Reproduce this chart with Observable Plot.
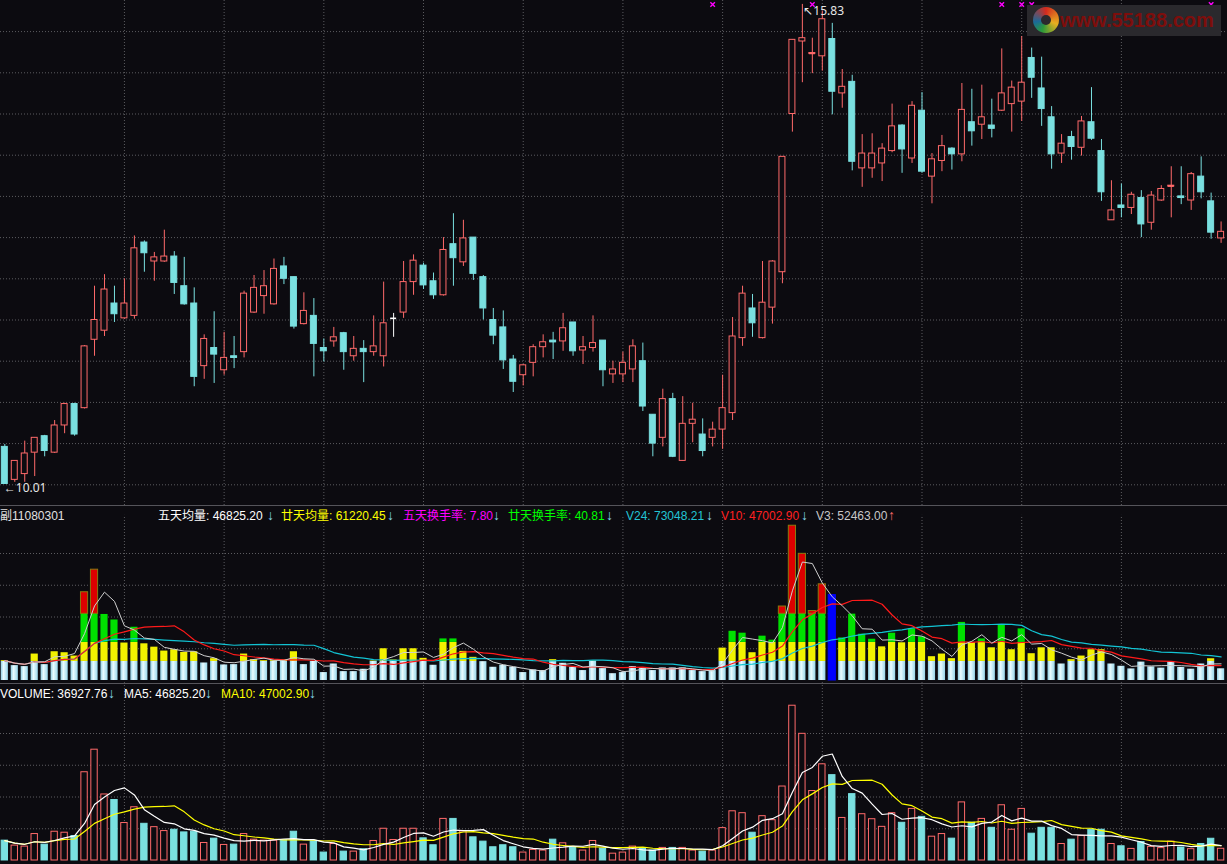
<!DOCTYPE html>
<html><head><meta charset="utf-8">
<script src="https://cdn.jsdelivr.net/npm/d3@7"></script>
<script src="https://cdn.jsdelivr.net/npm/@observablehq/plot@0.6"></script>
<style>
html,body{margin:0;padding:0;background:#0c0b10;}
#root{position:relative;width:1227px;height:864px;overflow:hidden;background:#0c0b10;font-family:"Liberation Sans","Noto Sans CJK SC",sans-serif;}
.panel{position:absolute;left:0;width:1227px;}
.sep{position:absolute;left:0;width:1227px;height:1px;background:#55545a;}
.lg{position:absolute;font-size:12px;line-height:14px;white-space:nowrap;}
.ar{font-size:14px;line-height:14px;margin-top:-1px;}
.logo{position:absolute;left:1027px;top:5px;width:194px;height:31px;background:#2a292d;}
.logo .sw{position:absolute;left:6px;top:2px;width:26px;height:26px;border-radius:50%;background:conic-gradient(#d42a1e 0deg,#e8b020 110deg,#2a9a3a 200deg,#1a6a9a 260deg,#d42a1e 360deg);}
.logo .sw i{position:absolute;left:8px;top:8px;width:10px;height:10px;border-radius:50%;background:#2a292d;}
.logo .tx{position:absolute;left:33px;top:4px;font:bold 20px "Liberation Sans",sans-serif;color:#7e0e0c;letter-spacing:0px;}
</style></head><body><div id="root"></div>
<script>
// ---- data ----
const opens  = [10.46,10.06,10.13,10.39,10.59,10.39,10.72,10.98,10.93,11.76,11.87,12.20,12.02,12.05,12.94,12.71,12.71,12.77,12.41,12.20,11.44,11.66,11.39,11.56,11.61,12.09,12.29,12.19,12.65,12.52,11.95,12.05,11.66,11.74,11.84,11.56,11.65,11.61,11.56,12.02,12.09,12.46,12.66,12.47,12.30,12.92,12.70,13.00,12.52,12.00,11.91,11.52,11.33,11.48,11.67,11.75,11.74,11.97,11.63,11.66,11.75,11.34,11.34,11.40,11.50,10.85,10.57,11.04,10.29,10.74,10.61,10.57,10.67,10.87,11.78,12.14,11.78,12.15,12.58,14.50,15.38,15.23,15.20,15.41,14.75,14.89,13.84,13.84,13.90,14.05,14.36,13.96,14.54,13.74,13.93,14.08,14.01,14.40,14.37,14.36,14.54,14.62,14.65,15.18,14.81,14.46,14.02,14.22,14.09,14.40,14.05,13.21,13.39,13.36,13.48,13.18,13.45,13.62,13.50,13.45,13.74,13.44,12.99];
const highs  = [10.49,10.29,10.53,10.57,10.60,10.78,10.99,10.99,11.69,12.41,12.55,12.41,12.50,13.02,12.96,12.82,13.09,12.83,12.76,12.39,11.82,12.10,11.85,11.80,12.35,12.54,12.60,12.74,12.76,12.52,12.33,12.26,11.77,11.91,11.85,11.80,11.75,12.05,12.46,12.08,12.71,12.79,12.69,12.57,13.00,13.29,13.21,13.00,12.54,12.14,12.11,11.57,11.46,11.70,11.82,11.85,12.08,11.97,11.80,12.05,11.75,11.50,11.61,11.76,11.72,10.85,11.16,11.11,11.07,10.99,10.80,10.76,11.33,12.03,12.41,12.31,12.71,12.72,13.98,15.40,15.83,15.42,15.75,15.60,15.04,14.97,14.25,14.26,14.14,14.62,14.37,14.65,14.76,14.02,14.24,14.09,14.87,14.80,14.85,14.68,15.29,14.90,15.44,15.30,15.19,14.59,14.25,14.29,14.47,14.82,14.19,13.69,13.65,13.55,13.57,13.56,13.63,13.86,13.86,13.79,13.98,13.54,13.19];
const lows   = [10.01,10.03,10.03,10.10,10.34,10.38,10.62,10.59,10.92,11.56,11.80,11.97,12.01,12.01,12.58,12.47,12.70,12.31,12.18,11.19,11.28,11.23,11.33,11.41,11.54,12.08,12.07,12.18,12.43,11.89,11.94,11.31,11.49,11.67,11.39,11.50,11.24,11.56,11.43,11.79,12.02,12.30,12.37,12.25,12.29,12.41,12.65,12.48,12.00,11.70,11.40,11.12,11.20,11.31,11.54,11.52,11.62,11.56,11.46,11.61,11.19,11.23,11.24,11.24,10.89,10.34,10.46,10.33,10.29,10.51,10.34,10.46,10.43,10.78,11.68,11.79,11.77,11.95,12.44,14.28,14.88,14.99,15.02,14.49,14.57,13.81,13.61,13.72,13.68,14.03,13.78,13.90,13.78,13.41,13.80,13.82,13.92,14.11,14.19,14.21,14.53,14.28,14.41,14.69,14.35,13.83,13.90,13.94,13.99,14.18,13.44,13.21,13.24,13.28,13.00,13.09,13.44,13.24,13.40,13.33,13.47,12.98,12.93];
const closes = [10.01,10.29,10.38,10.57,10.41,10.72,10.98,10.61,11.68,12.00,12.37,12.07,12.20,12.87,12.81,12.76,12.77,12.45,12.19,11.31,11.77,11.58,11.54,11.54,12.32,12.39,12.41,12.62,12.50,11.92,12.11,11.71,11.62,11.79,11.61,11.65,11.61,11.68,11.96,12.02,12.46,12.72,12.42,12.30,12.85,12.75,12.99,12.56,12.14,11.81,11.51,11.25,11.45,11.67,11.73,11.73,11.90,11.62,11.67,11.72,11.39,11.40,11.48,11.68,10.95,10.50,11.04,10.34,10.74,10.79,10.41,10.67,10.93,11.80,12.32,11.96,12.21,12.71,13.98,15.40,15.42,15.24,15.65,14.77,14.83,13.92,14.02,14.02,14.08,14.35,14.07,14.60,13.80,13.95,14.11,14.01,14.55,14.29,14.46,14.32,14.75,14.82,14.88,14.94,14.56,14.01,14.14,14.10,14.41,14.20,13.55,13.33,13.36,13.52,13.16,13.51,13.59,13.63,13.48,13.77,13.55,13.06,13.07];
const volumes = [62500,46900,43800,83300,50000,90600,87500,77000,278000,349000,208000,190600,118000,167700,115600,105000,92700,96900,88500,90600,55200,68800,49000,50000,83300,65600,62500,62500,64600,90600,50000,60400,25000,52000,28000,28000,35400,61500,100000,64600,100000,100000,69800,48000,131000,131000,91700,73000,59400,41700,48000,41700,25000,33300,31300,65600,54200,41700,31300,61500,37500,21500,25000,43800,38500,31300,39600,39600,39600,31300,28000,31300,102000,155000,149000,87500,139600,127000,233000,487500,399000,218800,303000,268800,134000,209000,145800,130000,106000,149000,118800,162500,137500,75000,83300,68800,183000,118800,131000,103000,174000,96900,162500,84400,103000,103000,52000,65600,77000,96900,96900,52000,44800,36500,58000,43000,39000,59400,41000,35700,52000,68500,36928];
const priceTicks = [10,10.5,11,11.5,12,12.5,13,13.5,14,14.5,15,15.5];
const volTicks = [100000,200000,300000,400000];
const gridIdx = [12,22,32,42,52,62,72,82,92,102,112];
const markerIdx = [71,81,100,102,103,121];
const turnoverBands = [60000,120000,210000];   // 2%, 4%, 7% turnover
const selectedIdx = 83;
const lowLabel = {i:0, p:10.01, t:"←10.01"};
const highLabel = {i:80, p:15.83, t:"↖15.83"};

// ---- styles ----
const BG="#0c0b10", RED="#ff6a6a", CYAN="#7ae0e0", GRID="#5c5c60";
const root = document.getElementById("root");
const X = {type:"linear", domain:[0,122], range:[4.3,1220.6], axis:null};
const idx = d3.range(opens.length);
const candles = idx.map(i=>({i,o:opens[i],h:highs[i],l:lows[i],c:closes[i],v:volumes[i]}));
const tone = d => d.c>d.o ? RED : (d.c<d.o ? CYAN : "#ffffff");
const base = {width:1227, marginTop:0, marginRight:0, marginBottom:0, marginLeft:0,
  style:{background:"transparent", color:"#ddd", overflow:"visible"}};

function place(svg, top){ const d=document.createElement("div"); d.className="panel"; d.style.top=top+"px"; d.appendChild(svg); root.appendChild(d); return svg; }
function sep(top){ const d=document.createElement("div"); d.className="sep"; d.style.top=top+"px"; root.appendChild(d); }

// ---- price panel ----
const price = Plot.plot({...base, height:505, x:X,
  y:{domain:[10,15.5], range:[484.3,31.1], axis:null},
  marks:[
    Plot.ruleY(priceTicks,{stroke:GRID, strokeDasharray:"1,2"}),
    Plot.ruleX(gridIdx,{stroke:GRID, strokeDasharray:"1,2"}),
    Plot.ruleX(candles,{x:"i", y1:"l", y2:"h", stroke:tone}),
    Plot.rect(candles,{x1:d=>d.i-0.3, x2:d=>d.i+0.3, y1:d=>Math.min(d.o,d.c), y2:d=>Math.max(d.o,d.c),
      fill:d=>d.c>d.o?BG:tone(d), stroke:tone}),
    Plot.ruleY(candles.filter(d=>Math.abs(d.c-d.o)<0.03),{y:d=>(d.o+d.c)/2, x1:d=>d.i-0.3, x2:d=>d.i+0.3, stroke:tone, strokeWidth:1.6}),
    Plot.text([lowLabel],{x:"i", y:"p", text:"t", textAnchor:"start", dx:-1, dy:4, fill:"#e6e6e6", fontSize:12}),
    Plot.text([highLabel],{x:"i", y:"p", text:"t", textAnchor:"start", dx:1, dy:7, fill:"#e6e6e6", fontSize:12}),
    Plot.dot(markerIdx,{x:d=>d, frameAnchor:"top", dy:4, symbol:"times", r:2.2, stroke:"#ff00ff", strokeWidth:1.4})
  ]});
place(price, 0);
sep(505);

// ---- indicator panel (turnover-banded volume) ----
const edges=[0,...turnoverBands,Infinity];
const bandFill=["url(#lbGrad)","#f2f200","#00e000","#dd0000"];
const segs=[];
candles.forEach(d=>{ for(let k=0;k<4;k++){ if(d.v>edges[k]) segs.push({i:d.i, a:edges[k], b:Math.min(d.v,edges[k+1]), k}); } });
const ind = Plot.plot({...base, height:177, x:X,
  y:{domain:[0,400000], range:[174,47], axis:null},
  marks:[
    Plot.ruleY(volTicks,{stroke:GRID, strokeDasharray:"1,2"}),
    Plot.ruleX(gridIdx,{stroke:GRID, strokeDasharray:"1,2", y1:0, y2:520000}),
    Plot.rect(segs,{x1:d=>d.i-0.36, x2:d=>d.i+0.36, y1:"a", y2:"b",
      fill:d=>d.i===selectedIdx?"#0000ff":bandFill[d.k],
      stroke:d=>d.i===selectedIdx?"#0000ff":(d.k===3?"#8a7a10":"none")}),
    Plot.lineY(candles, Plot.windowY({k:24, anchor:"end"}, {x:"i", y:"v", stroke:"#12c4d4", strokeWidth:1.2})),
    Plot.lineY(candles, Plot.windowY({k:10, anchor:"end"}, {x:"i", y:"v", stroke:"#ff1a1a", strokeWidth:1.2})),
    Plot.lineY(candles, Plot.windowY({k:3, anchor:"end"}, {x:"i", y:"v", stroke:"#cfcfcf", strokeWidth:1}))
  ]});
(function(){ const ns="http://www.w3.org/2000/svg"; const defs=document.createElementNS(ns,"defs");
  const g=document.createElementNS(ns,"linearGradient"); g.setAttribute("id","lbGrad"); g.setAttribute("x1","0"); g.setAttribute("x2","1"); g.setAttribute("y1","0"); g.setAttribute("y2","0");
  [["0","#8fcfe4"],["0.4","#eafcff"],["1","#98d6ea"]].forEach(([o,c])=>{const s=document.createElementNS(ns,"stop"); s.setAttribute("offset",o); s.setAttribute("stop-color",c); g.appendChild(s);});
  defs.appendChild(g); ind.insertBefore(defs, ind.firstChild); })();
place(ind, 506);
sep(683);

// ---- volume panel ----
const vol = Plot.plot({...base, height:180, x:X,
  y:{domain:[0,400000], range:[176,49], axis:null},
  marks:[
    Plot.ruleY(volTicks,{stroke:GRID, strokeDasharray:"1,2"}),
    Plot.ruleX(gridIdx,{stroke:GRID, strokeDasharray:"1,2", y1:0, y2:560000}),
    Plot.rect(candles,{x1:d=>d.i-0.32, x2:d=>d.i+0.32, y1:0, y2:"v",
      fill:d=>d.c<d.o?CYAN:BG, stroke:d=>d.c<d.o?CYAN:RED}),
    Plot.lineY(candles, Plot.windowY({k:10, anchor:"end"}, {x:"i", y:"v", stroke:"#ffff00", strokeWidth:1.2})),
    Plot.lineY(candles, Plot.windowY({k:5, anchor:"end"}, {x:"i", y:"v", stroke:"#ffffff", strokeWidth:1.2}))
  ]});
place(vol, 684);

// ---- legends ----
const DN="#86d8ee", UP="#ff6a6a";
function lg(top, items){ items.forEach(([x,t,c,cls])=>{ const s=document.createElement("div"); s.className="lg"+(cls?" "+cls:""); s.style.left=x+"px"; s.style.top=top+"px"; s.style.color=c; s.textContent=t; root.appendChild(s); }); }
lg(509,[[0,"副11080301","#e0e0e0"],
  [158,"五天均量: 46825.20","#ffffff"],[267,"↓",DN,"ar"],
  [281,"廿天均量: 61220.45","#ffff00"],[387,"↓",DN,"ar"],
  [403,"五天换手率: 7.80","#ff00ff"],[493,"↓",DN,"ar"],
  [508,"廿天换手率: 40.81","#00ff00"],[606,"↓",DN,"ar"],
  [626,"V24: 73048.21","#22c4d4"],[706,"↓",DN,"ar"],
  [721,"V10: 47002.90","#ff2020"],[801,"↓",DN,"ar"],
  [816,"V3: 52463.00","#c8c8c8"],[888,"↑",UP,"ar"]]);
lg(687,[[0,"VOLUME: 36927.76","#ffffff"],[108,"↓",DN,"ar"],
  [124,"MA5: 46825.20","#ffffff"],[205,"↓",DN,"ar"],
  [221,"MA10: 47002.90","#ffff00"],[309,"↓",DN,"ar"]]);

// ---- watermark ----
const logo=document.createElement("div"); logo.className="logo";
logo.innerHTML='<div class="sw"><i></i></div><div class="tx">www.55188.com</div>';
root.appendChild(logo);
</script>
</body></html>
